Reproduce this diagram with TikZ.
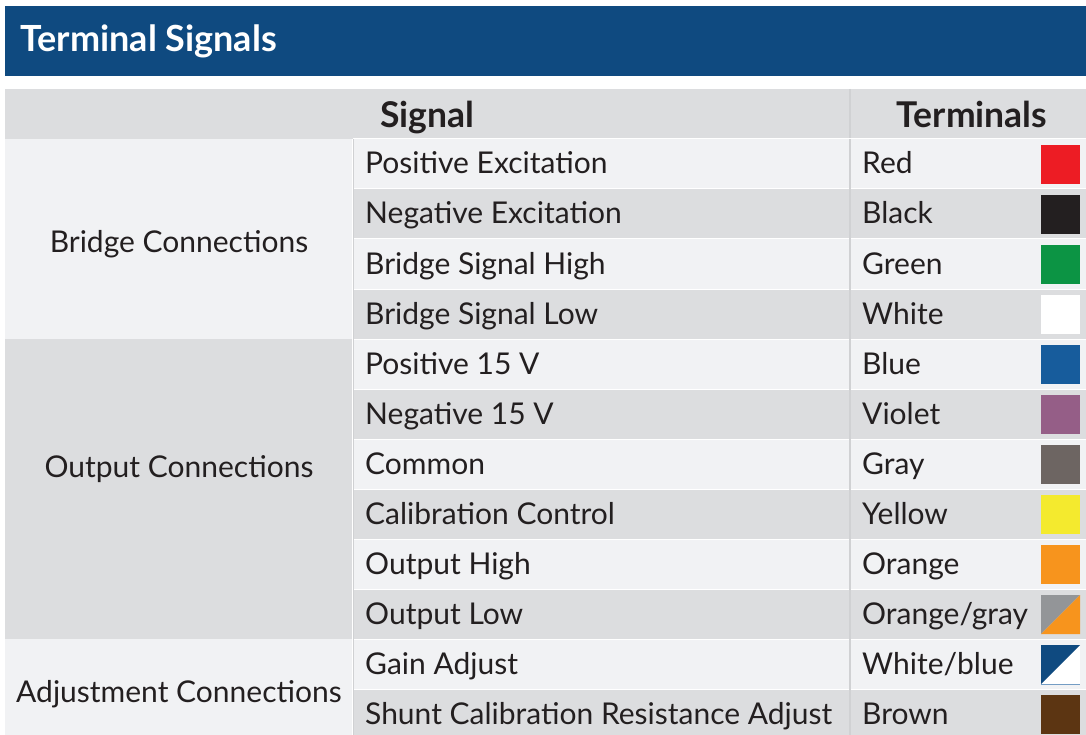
\documentclass[tikz,border=0pt]{standalone}
\usepackage{fontspec}
\setmainfont{Lato}
\definecolor{hdrblue}{HTML}{0F4A80}
\definecolor{rowlight}{HTML}{F1F2F4}
\definecolor{rowdark}{HTML}{DCDDDF}
\definecolor{divline}{HTML}{D0D1D3}
\definecolor{txt}{HTML}{231F20}
\definecolor{swred}{HTML}{ED1C24}
\definecolor{swblack}{HTML}{231F20}
\definecolor{swgreen}{HTML}{0C9444}
\definecolor{swwhite}{HTML}{FFFFFF}
\definecolor{swblue}{HTML}{175C9C}
\definecolor{swviolet}{HTML}{955E87}
\definecolor{swgray}{HTML}{6D6562}
\definecolor{swyellow}{HTML}{F4EA2E}
\definecolor{sworange}{HTML}{F7941D}
\definecolor{swgraylt}{HTML}{939598}
\definecolor{swbrown}{HTML}{5C3512}
\tikzset{
  bodytext/.style={anchor=base west, inner sep=0pt, text=txt, font=\fontsize{30}{33}\selectfont},
  grouptext/.style={anchor=base, inner sep=0pt, text=txt, font=\fontsize{30}{33}\selectfont},
  headtext/.style={anchor=base, inner sep=0pt, text=txt, font=\fontsize{35.5}{38}\selectfont\bfseries},
  titletext/.style={anchor=base west, inner sep=0pt, text=white, font=\fontsize{36}{40}\selectfont\bfseries},
}
\def\swnone{none}
\begin{document}
\begin{tikzpicture}[x=1pt,y=-1pt]
\useasboundingbox (0,0) rectangle (1086,735);
\fill[white] (0,0) rectangle (1086,735);
% title bar
\fill[hdrblue] (5,6) rectangle (1086,76);
\node[titletext] (title) at (20,52) {Terminal Signals};
% table header
\fill[rowdark] (5,89) rectangle (1086,139);
\draw[divline, line width=1.5pt] (850,89) -- (850,139);
\node[headtext] (hsignal) at (427.5,128) {Signal};
\node[headtext] (hterm) at (972,128) {Terminals};
% group cells
\fill[rowlight] (5,139) rectangle (353,339);
\fill[rowdark] (5,339) rectangle (353,639);
\fill[rowlight] (5,639) rectangle (353,735);
\node[grouptext] (gbridge) at (179,252) {Bridge Connections};
\node[grouptext] (goutput) at (179,477) {Output Connections};
\node[grouptext] (gadjust) at (179,702) {Adjustment Connections};
% rows
\foreach \i/\sig/\term/\sw in {
  1/{Positive Excitation}/{Red}/swred,
  2/{Negative Excitation}/{Black}/swblack,
  3/{Bridge Signal High}/{Green}/swgreen,
  4/{Bridge Signal Low}/{White}/swwhite,
  5/{Positive 15 V}/{Blue}/swblue,
  6/{Negative 15 V}/{Violet}/swviolet,
  7/{Common}/{Gray}/swgray,
  8/{Calibration Control}/{Yellow}/swyellow,
  9/{Output High}/{Orange}/sworange,
  10/{Output Low}/{Orange/gray}/none,
  11/{Gain Adjust}/{White/blue}/none,
  12/{Shunt Calibration Resistance Adjust}/{Brown}/swbrown}{
  \pgfmathsetmacro{\rtop}{139+50*(\i-1)}
  \pgfmathsetmacro{\rbot}{min(\rtop+50,735)}
  \pgfmathtruncatemacro{\odd}{mod(\i,2)}
  \ifnum\odd=1 \def\rc{rowlight}\else\def\rc{rowdark}\fi
  \fill[\rc] (353,\rtop) rectangle (1086,\rbot);
  \draw[white, line width=1pt] (353,\rtop) -- (1086,\rtop);
  \node[bodytext] (sig\i) at (365,\rtop+35) {\sig};
  \node[bodytext] (term\i) at (862,\rtop+35) {\term};
  \ifx\sw\swnone\else
    \fill[\sw] (1041,\rtop+6) rectangle (1080,\rtop+45);
  \fi
}
% special swatches
\fill[swgraylt] (1041,595) -- (1080,595) -- (1041,634) -- cycle;
\fill[sworange] (1080,595) -- (1080,634) -- (1041,634) -- cycle;
\fill[white] (1041,645) rectangle (1080,684);
\fill[hdrblue] (1041,645) -- (1080,645) -- (1041,684) -- cycle;
\draw[swblue!60, line width=0.8pt] (1041,684) -- (1080,684);
% column dividers
\draw[white, line width=1pt] (352,139) -- (352,735);
\draw[divline, line width=1.2pt] (353.5,139) -- (353.5,735);
\draw[divline, line width=1.5pt] (850,139) -- (850,735);
\end{tikzpicture}
\end{document}
